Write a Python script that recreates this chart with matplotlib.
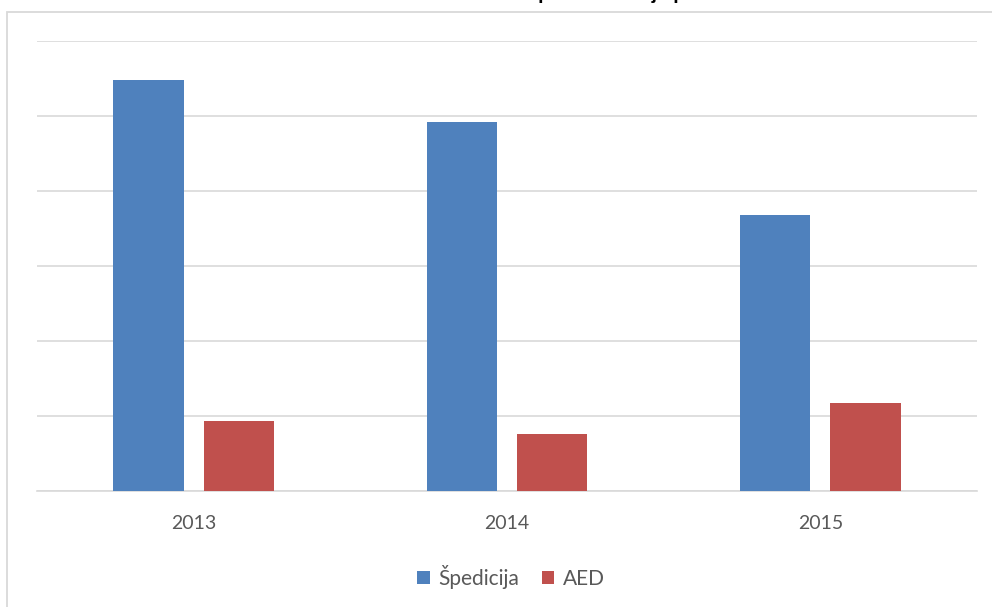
import numpy as np
import matplotlib.pyplot as plt
from matplotlib.patches import Rectangle

# podaci (u jedinicama mreze)
godine = ['2013', '2014', '2015']
spedicija = [5.48, 4.92, 3.68]
aed = [0.93, 0.76, 1.17]
naslov = 'Grafikon 3. Ostvareni iznosi - usporedba broja poslova'

plava = '#4f81bd'
crvena = '#c0504d'
siva = '#d9d9d9'
tekst = '#595959'

fig = plt.figure(figsize=(9.92, 6.07), dpi=100)

# okvir grafikona (gornji i lijevi rub vidljivi)
okvir = Rectangle((7 / 992, -0.1), 1.2, 1 + 0.1 - 12 / 607, transform=fig.transFigure,
                  fill=False, edgecolor=siva, linewidth=1.3)
fig.patches.append(okvir)

ax = fig.add_axes([37 / 992, 116 / 607, 940 / 992, 450 / 607])
x = np.arange(len(godine))
sirina = 0.224
pomak = 0.144
ax.bar(x - pomak, spedicija, sirina, color=plava, label='Špedicija', zorder=3)
ax.bar(x + pomak, aed, sirina, color=crvena, label='AED', zorder=3)

ax.set_xlim(-0.5, 2.5)
ax.set_ylim(0, 6)
ax.set_yticks(range(0, 7))
ax.yaxis.grid(True, color=siva, linewidth=1.2, zorder=0)
ax.set_yticklabels([])
ax.tick_params(axis='y', length=0)
ax.set_xticks(x)
ax.set_xticklabels(godine, fontsize=14, color=tekst, family='Lato')
ax.tick_params(axis='x', length=0, pad=17)
for s in ['top', 'right', 'left']:
    ax.spines[s].set_visible(False)
ax.spines['bottom'].set_color(siva)
ax.spines['bottom'].set_linewidth(1.2)

leg = fig.legend(loc='center', bbox_to_anchor=(511 / 992, 30 / 607), ncol=2, frameon=False,
                 prop={'family': 'Lato', 'size': 15}, handlelength=0.6, handleheight=0.6,
                 handletextpad=0.4, columnspacing=1.1)
for t in leg.get_texts():
    t.set_color(tekst)

# naslov je odrezan na vrhu slike
fig.text(493 / 992, 1 + 0.5 / 607, naslov, ha='center', va='baseline', fontsize=14,
         fontweight='bold', family='Liberation Sans')

fig.savefig('out.png', dpi=100)
